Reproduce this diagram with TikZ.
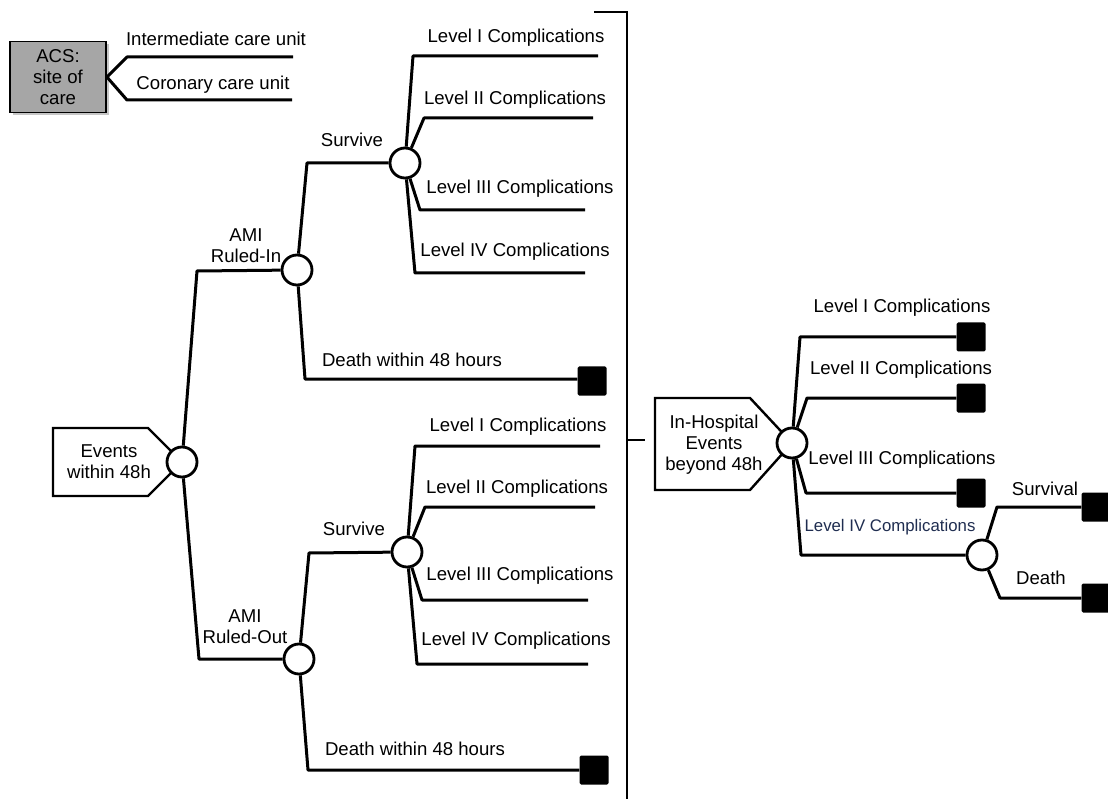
\documentclass[tikz,border=0pt]{standalone}
\usepackage{fontspec}
\setmainfont{Liberation Sans}
\usetikzlibrary{shadows}
\definecolor{acsgray}{RGB}{166,166,166}
\definecolor{navytext}{RGB}{31,45,80}
\begin{document}
\begin{tikzpicture}[x=1pt,y=-1pt,
  ln/.style={line width=3pt, line join=round},
  chance/.style={circle, draw, line width=2.8pt, fill=white, minimum size=30pt, inner sep=0pt},
  term/.style={rectangle, fill=black, minimum size=29pt, inner sep=0pt, rounded corners=1.5pt},
  lbl/.style={font=\fontsize{18.6}{21}\selectfont, inner sep=0pt, align=center},
  slbl/.style={font=\fontsize{16.8}{20}\selectfont, inner sep=0pt, text=navytext},
  tag/.style={line width=2.4pt, line join=miter, fill=white}]
\useasboundingbox (0,0) rectangle (1108,799);

% ---------- ACS site of care ----------
\node[draw, line width=1.8pt, fill=acsgray, minimum width=96pt, minimum height=71pt,
      lbl, drop shadow={shadow xshift=3pt, shadow yshift=-3pt, opacity=0.45}] (acs) at (58,77) {ACS:\\site of\\care};
\coordinate (icu) at (293,57);
\coordinate (ccu) at (292,100);
\draw[ln] (acs.east) -- (127,57) -- (icu);
\draw[ln] (acs.east) -- (127,100) -- (ccu);
\node[lbl] (ticu) at (216,39) {Intermediate care unit};
\node[lbl] (tccu) at (213,85) {Coronary care unit};

% ---------- tags ----------
\draw[tag] (53,428) -- (148,428) -- (182,462) -- (148,496) -- (53,496) -- cycle;
\node[lbl] (ev) at (109,462) {Events\\within 48h};
\draw[tag] (655,398) -- (750,398) -- (792,443) -- (750,490) -- (655,490) -- cycle;
\node[lbl] (ih) at (714,445) {In-Hospital\\Events\\beyond 48h};

% ---------- nodes ----------
\node[chance] (e0) at (182,462) {};
\node[chance] (ri) at (297,270) {};
\node[chance] (ro) at (299,659) {};
\node[chance] (s1) at (405,163) {};
\node[chance] (s2) at (407,552) {};
\node[chance] (h0) at (792,443) {};
\node[chance] (c4) at (982,555) {};

\node[term] (d1) at (592,381) {};
\node[term] (d2) at (594,770) {};
\node[term] (t1) at (971,337) {};
\node[term] (t2) at (971,398) {};
\node[term] (t3) at (971,493) {};
\node[term] (t5) at (1096,507) {};
\node[term] (t6) at (1096,598) {};

% ---------- first-level branches ----------
\draw[ln] (e0) -- (197,271) -- (ri);
\draw[ln] (e0) -- (199,659) -- (ro);
\node[lbl] (lri) at (246,246) {AMI\\Ruled-In};
\node[lbl] (lro) at (245,627) {AMI\\Ruled-Out};

% ---------- AMI ruled-in ----------
\draw[ln] (ri) -- (307,163) -- (s1);
\draw[ln] (ri) -- (305,379) -- (d1.west |- 0,379);
\node[lbl] (lsv1) at (352,140) {Survive};
\node[lbl] (ld1) at (412,360) {Death within 48 hours};

\coordinate (a1) at (598,56);
\coordinate (a2) at (593,118);
\coordinate (a3) at (585,210);
\coordinate (a4) at (585,273);
\draw[ln] (s1) -- (413,56) -- (a1);
\draw[ln] (s1) -- (424,118) -- (a2);
\draw[ln] (s1) -- (420,210) -- (a3);
\draw[ln] (s1) -- (415,273) -- (a4);
\node[lbl] (la1) at (516,38) {Level I Complications};
\node[lbl] (la2) at (515,100) {Level II Complications};
\node[lbl] (la3) at (520,189) {Level III Complications};
\node[lbl] (la4) at (515,252) {Level IV Complications};

% ---------- AMI ruled-out ----------
\draw[ln] (ro) -- (309,553) -- (s2);
\draw[ln] (ro) -- (308,770) -- (d2);
\node[lbl] (lsv2) at (354,529) {Survive};
\node[lbl] (ld2) at (415,749) {Death within 48 hours};

\coordinate (b1) at (600,446);
\coordinate (b2) at (595,507);
\coordinate (b3) at (588,600);
\coordinate (b4) at (588,664);
\draw[ln] (s2) -- (415,446) -- (b1);
\draw[ln] (s2) -- (425,507) -- (b2);
\draw[ln] (s2) -- (422,600) -- (b3);
\draw[ln] (s2) -- (417,664) -- (b4);
\node[lbl] (lb1) at (518,427) {Level I Complications};
\node[lbl] (lb2) at (517,489) {Level II Complications};
\node[lbl] (lb3) at (520,576) {Level III Complications};
\node[lbl] (lb4) at (516,641) {Level IV Complications};

% ---------- bracket ----------
\coordinate (br0) at (594,12);
\coordinate (br1) at (627,12);
\coordinate (br2) at (627,801);
\coordinate (br3) at (627,440);
\coordinate (br4) at (645,440);
\draw[line width=2.6pt] (br0) -- (br1) -- (br2);
\draw[line width=2.6pt] (br3) -- (br4);

% ---------- in-hospital events ----------
\draw[ln] (h0) -- (800,337) -- (t1);
\draw[ln] (h0) -- (807,398) -- (t2);
\draw[ln] (h0) -- (806,493) -- (t3);
\draw[ln] (h0) -- (801,555) -- (c4);
\draw[ln] (c4) -- (997,507) -- (t5);
\draw[ln] (c4) -- (1000,598) -- (t6);
\node[lbl] (lh1) at (902,308) {Level I Complications};
\node[lbl] (lh2) at (901,370) {Level II Complications};
\node[lbl] (lh3) at (902,460) {Level III Complications};
\node[slbl] (lh4) at (890,527) {Level IV Complications};
\node[lbl] (lsur) at (1045,489) {Survival};
\node[lbl] (ldea) at (1041,578) {Death};
\end{tikzpicture}
\end{document}
